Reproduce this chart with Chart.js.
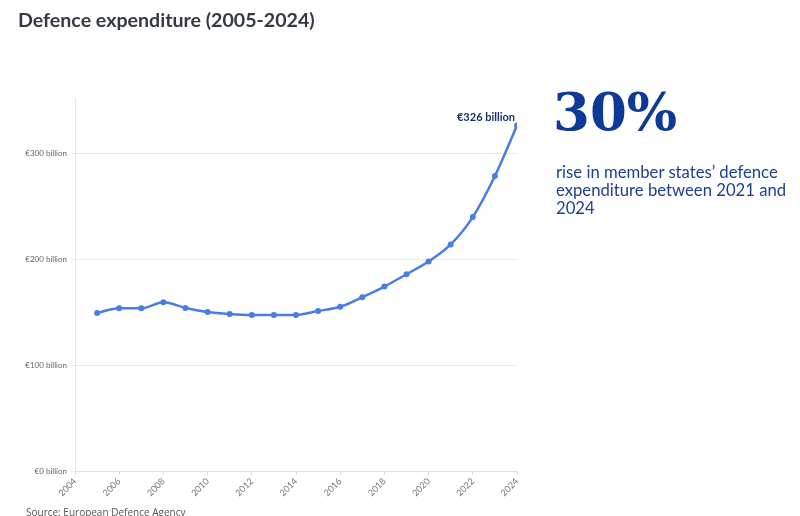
<!DOCTYPE html>
<html><head><meta charset="utf-8">
<script src="https://cdn.jsdelivr.net/npm/chart.js@4"></script>
<style>
body{margin:0;background:#fff;width:800px;height:516px;overflow:hidden;position:relative}
#c{position:absolute;left:0;top:0}
.title{position:absolute;left:18px;top:8px;font:700 19.6px Lato,sans-serif;color:#343a40;white-space:nowrap}
.big{position:absolute;left:553px;top:80px;font:700 53px "DejaVu Serif",serif;color:#0d3a96;white-space:nowrap}
.sub{position:absolute;left:556px;top:163px;width:240px;font:400 16.7px/18px Lato,sans-serif;color:#1d3f93}
.src{position:absolute;left:26px;top:505px;font:400 10px "Open Sans",sans-serif;color:#555;white-space:nowrap}
</style></head>
<body>
<canvas id="c" width="800" height="516"></canvas>
<div class="title">Defence expenditure (2005-2024)</div>
<div class="big">30%</div>
<div class="sub">rise in member states’ defence expenditure between 2021 and 2024</div>
<div class="src">Source: European Defence Agency</div>
<script>
const years = [2005,2006,2007,2008,2009,2010,2011,2012,2013,2014,2015,2016,2017,2018,2019,2020,2021,2022,2023,2024];
const spending = [149.2,153.5,153.5,159.2,153.9,150.1,148.2,147.3,147.3,147.3,151,155,164,174,185.7,197.7,213.8,239.6,278.4,326];
const xTicks = [2004,2006,2008,2010,2012,2014,2016,2018,2020,2022,2024];
const yTicks = [0,100,200,300];
const endLabel = "€326 billion";

const endLabelPlugin = {
  id: 'endLabel',
  afterDatasetsDraw(chart) {
    const meta = chart.getDatasetMeta(0);
    const pt = meta.data[meta.data.length - 1];
    const ctx = chart.ctx;
    ctx.save();
    ctx.font = '700 11px Lato, sans-serif';
    ctx.fillStyle = '#1b2f6b';
    ctx.textAlign = 'right';
    ctx.textBaseline = 'alphabetic';
    ctx.fillText(endLabel, pt.x - 2, pt.y - 5);
    ctx.restore();
  }
};

new Chart(document.getElementById('c'), {
  type: 'line',
  data: {
    datasets: [{
      data: years.map((y, i) => ({x: y, y: spending[i]})),
      borderColor: '#4a7de3',
      backgroundColor: '#4a7de3',
      pointBackgroundColor: '#4a7de3',
      pointBorderWidth: 0,
      borderWidth: 2.5,
      pointRadius: 3,
      cubicInterpolationMode: 'monotone',
      fill: false
    }]
  },
  options: {
    responsive: false,
    animation: false,
    layout: {padding: {left: 0, right: 283, top: 98, bottom: 15}},
    plugins: {legend: {display: false}, tooltip: {enabled: false}},
    scales: {
      x: {
        type: 'linear', min: 2004, max: 2024,
        afterBuildTicks: s => { s.ticks = xTicks.map(v => ({value: v})); },
        afterFit: s => { s.height = 30; },
        ticks: {callback: v => String(v), maxRotation: 45, minRotation: 45, autoSkip: false,
                font: {size: 9, family: 'Lato'}, color: '#777', padding: 1},
        grid: {drawOnChartArea: false, tickLength: 4, color: '#ddd'},
        border: {color: '#ddd'}
      },
      y: {
        min: 0, max: 352,
        afterBuildTicks: s => { s.ticks = yTicks.map(v => ({value: v})); },
        afterFit: s => { s.width = 75; },
        ticks: {callback: v => '€' + v + ' billion', font: {size: 8, family: 'Lato'}, color: '#666', padding: 4},
        grid: {color: '#ebebeb', tickLength: 4},
        border: {color: '#e5e5e5'}
      }
    }
  },
  plugins: [endLabelPlugin]
});
</script>
</body></html>
